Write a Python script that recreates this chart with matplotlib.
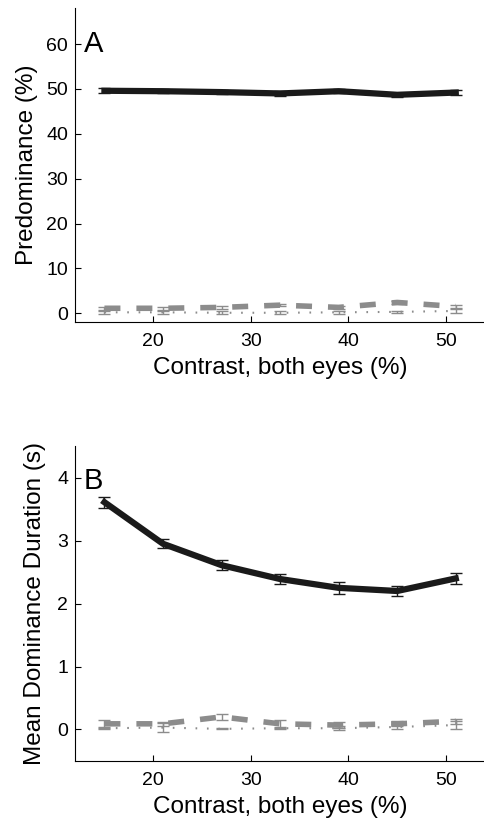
import matplotlib
matplotlib.use("Agg")
import matplotlib.pyplot as plt

plt.rcParams['font.family'] = ['Liberation Sans', 'DejaVu Sans']
plt.rcParams['lines.scale_dashes'] = False

contrast = [15, 21, 27, 33, 39, 45, 51]

# Panel A: predominance (%)
pred_black = [49.6, 49.5, 49.3, 49.0, 49.5, 48.7, 49.2]
pred_black_err = [0.6, 0.5, 0.5, 0.5, 0.5, 0.5, 0.6]
pred_dash = [1.1, 1.1, 1.3, 1.8, 1.3, 2.4, 1.5]
pred_dash_err = [0.3, 0.3, 0.3, 0.3, 0.3, 0.4, 0.3]
pred_dot = [0.2, 0.2, 0.1, 0.1, 0.2, 0.3, 0.5]
pred_dot_err = [0.4, 0.4, 0.3, 0.3, 0.3, 0.2, 0.5]

# Panel B: mean dominance duration (s)
dur_black = [3.61, 2.95, 2.61, 2.39, 2.25, 2.20, 2.40]
dur_black_err = [0.09, 0.07, 0.08, 0.08, 0.09, 0.08, 0.09]
dur_dash = [0.09, 0.09, 0.20, 0.09, 0.07, 0.09, 0.13]
dur_dash_err = [0.06, 0.03, 0.05, 0.06, 0.05, 0.04, 0.04]
dur_dot = [0.02, 0.03, 0.01, 0.02, 0.02, 0.04, 0.07]
dur_dot_err = [0.02, 0.07, 0.01, 0.02, 0.03, 0.04, 0.06]

xticks = [20, 30, 40, 50]

fig = plt.figure(figsize=(4.85, 8.24), dpi=100)
axA = fig.add_axes([0.155, 0.609, 0.845, 0.381])
axB = fig.add_axes([0.155, 0.0765, 0.845, 0.382])

black = '#1a1a1a'
gray = '#8c8c8c'

def draw(ax, yb, eb, yd, ed, yo, eo):
    ax.errorbar(contrast, yo, yerr=eo, color=gray, lw=1.5, ls=(0, (1.2, 7)),
                capsize=4, elinewidth=1.0, capthick=1.0, zorder=2)
    ax.errorbar(contrast, yd, yerr=ed, color=gray, lw=4.0, dashes=(11.5, 11.5),
                capsize=4, elinewidth=1.0, capthick=1.0, ecolor=gray, zorder=3)
    ax.errorbar(contrast, yb, yerr=eb, color=black, lw=4.5,
                capsize=4, elinewidth=1.0, capthick=1.0, ecolor=black, zorder=4)
    ax.spines['top'].set_visible(False)
    ax.spines['right'].set_visible(False)
    ax.spines['left'].set_linewidth(0.8)
    ax.spines['bottom'].set_linewidth(0.8)
    ax.tick_params(direction='in', length=4, width=0.8, labelsize=14)
    ax.tick_params(axis='x', pad=8)
    ax.tick_params(axis='y', pad=5)
    ax.set_xlim(12, 54)
    ax.set_xticks(xticks)
    ax.set_xlabel('Contrast, both eyes (%)', fontsize=17.5, labelpad=5)

draw(axA, pred_black, pred_black_err, pred_dash, pred_dash_err, pred_dot, pred_dot_err)
axA.set_ylim(-2, 68)
axA.set_yticks([0, 10, 20, 30, 40, 50, 60])
axA.set_ylabel('Predominance (%)', fontsize=17.5, labelpad=6)
axA.text(12.9, 60, 'A', fontsize=21, va='center', ha='left')

draw(axB, dur_black, dur_black_err, dur_dash, dur_dash_err, dur_dot, dur_dot_err)
axB.set_ylim(-0.5, 4.5)
axB.set_yticks([0, 1, 2, 3, 4])
axB.set_ylabel('Mean Dominance Duration (s)', fontsize=17.5, labelpad=8)
axB.text(12.9, 3.95, 'B', fontsize=21, va='center', ha='left')

fig.savefig('out.png', dpi=100)
